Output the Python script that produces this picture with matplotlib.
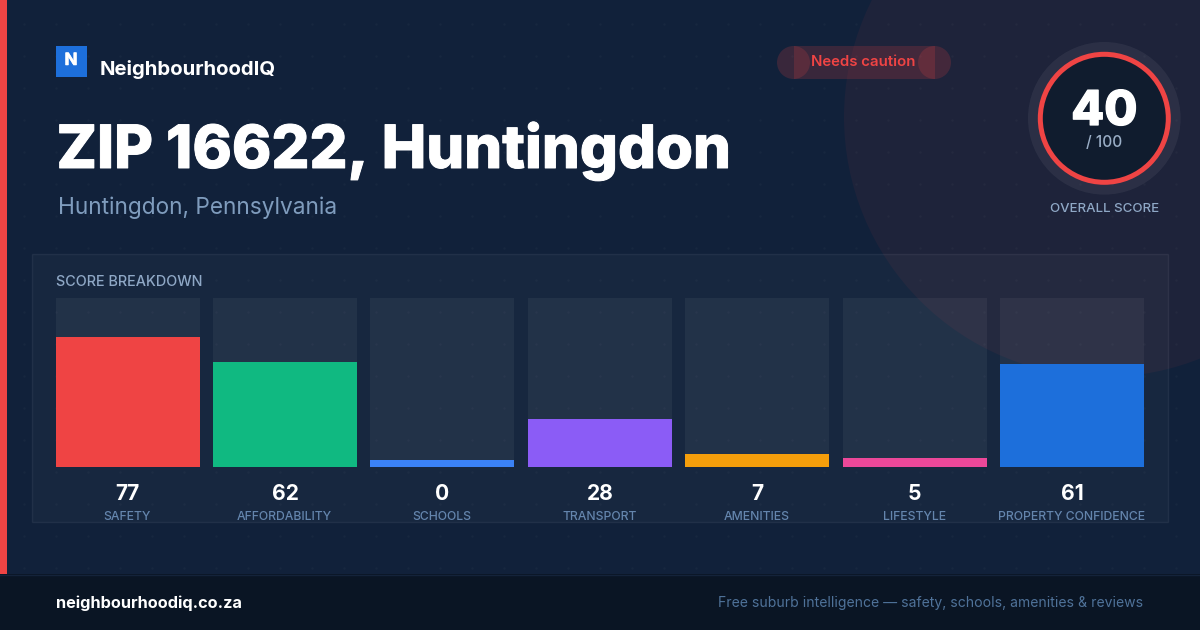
import numpy as np
import matplotlib
matplotlib.use("Agg")
import matplotlib.pyplot as plt
import matplotlib.patheffects as pe
from matplotlib.patches import Rectangle, Circle
from matplotlib.transforms import ScaledTranslation

categories = ["SAFETY", "AFFORDABILITY", "SCHOOLS", "TRANSPORT", "AMENITIES", "LIFESTYLE", "PROPERTY CONFIDENCE"]
scores = [77, 62, 0, 28.4, 7.45, 5.3, 61]
bar_colors = ["#ef4444", "#10b981", "#3b82f6", "#8b5cf6", "#f59e0b", "#ec4899", "#1d6fdb"]
overall_score = 40
MIN_VISIBLE = 4.1

plt.rcParams["font.family"] = ["Inter", "DejaVu Sans"]
BG = "#11213a"
px = 0.72


def heavy(width):
    return [pe.withStroke(linewidth=width, foreground="white")]


fig = plt.figure(figsize=(12, 6.3), dpi=100, facecolor=BG)
ax = fig.add_axes([0, 0, 1, 1])
ax.set_xlim(0, 1200)
ax.set_ylim(630, 0)
ax.axis("off")

ax.add_patch(Circle((1104, 117), 260, fc="#ef4444", alpha=0.06, lw=0, zorder=1))
ax.add_patch(Rectangle((32, 254), 1136, 268, fc=(1, 1, 1, 0.028), ec=(1, 1, 1, 0.06), lw=1, zorder=2))
ax.add_patch(Rectangle((0, 0), 7, 574, fc="#ef4444", lw=0, zorder=3))
ax.add_patch(Rectangle((0, 574), 1200, 56, fc="#0a1524", ec="none", zorder=8))
ax.plot([0, 1200], [574.5, 574.5], color="#14233a", lw=1, zorder=9)

gx, gy = np.meshgrid(np.arange(24, 1200, 32), np.arange(24, 574, 32))
ax.scatter(gx.ravel(), gy.ravel(), s=3, color="white", alpha=0.028, lw=0, zorder=4)

# logo and titles
ax.add_patch(Rectangle((56, 46), 31, 31, fc="#1d6fdb", lw=0, zorder=5))
ax.text(71, 60.5, "N", color="white", fontsize=17*px, fontweight="bold", ha="center", va="center", zorder=6,
        path_effects=heavy(0.4))
ax.text(100, 75, "NeighbourhoodIQ", color="white", fontsize=20.3*px, fontweight="bold", va="baseline", zorder=6)
ax.text(56.5, 168, "ZIP 16622, Huntingdon", color="white", fontsize=59.7*px, fontweight=800, va="baseline", zorder=6,
        path_effects=heavy(0.7))
ax.text(58, 214, "Huntingdon, Pennsylvania", color="#7f9cbd", fontsize=22.65*px, va="baseline", zorder=6)

# status pill
pill = dict(fc="#ef4444", alpha=0.18, lw=0, zorder=5)
ax.add_patch(Rectangle((793.5, 46), 141, 33, **pill))
ax.add_patch(Circle((793.5, 62.5), 16.5, **pill))
ax.add_patch(Circle((934.5, 62.5), 16.5, **pill))
ax.text(863.5, 62, "Needs caution", color="#ef4444", fontsize=15*px, fontweight=600, ha="center", va="center", zorder=6)

# gauge
cx, cy = 1104.3, 118.3
ax.add_patch(Circle((cx, cy), 76.3, fc=(1, 1, 1, 0.06), lw=0, zorder=5))
ax.add_patch(Circle((cx, cy), 64, fc="#101c2e", ec="#ef4444", lw=5*px, zorder=6))
ax.text(cx, 125, str(overall_score), color="white", fontsize=48*px, fontweight=800, ha="center", va="baseline", zorder=7,
        path_effects=heavy(0.9))
ax.text(cx, 142.5, "/ 100", color="#9aaec6", fontsize=15.5*px, fontweight=500, ha="center", va="center", zorder=7)
ax.text(cx, 209.5, "OVERALL SCORE", color="#8fa8c6", fontsize=13.3*px, fontweight=500, ha="center", va="center", zorder=7)

ax.text(56, 281.5, "SCORE BREAKDOWN", color="#8fa8c6", fontsize=14.4*px, fontweight=500, va="center", zorder=7)

# footer
ax.text(56, 603, "neighbourhoodiq.co.za", color="white", fontsize=16.3*px, fontweight="bold", va="center", zorder=10)
ax.text(1143, 602.5, "Free suburb intelligence \u2014 safety, schools, amenities & reviews", color="#4f7299",
        fontsize=14*px, ha="right", va="center", zorder=10)

# bars
left_px, pitch, bar_px = 55.6, 157.44, 144
bx = fig.add_axes([left_px/1200, (630-467)/630, (6*pitch + bar_px)/1200, 169/630], facecolor="none", zorder=5)
w = bar_px / pitch
x = np.arange(len(categories))
bx.set_xlim(-w/2, len(categories) - 1 + w/2)
bx.set_ylim(0, 100)
bx.bar(x, [100]*len(x), width=w, color=(1, 1, 1, 0.05), lw=0, zorder=1)
bx.bar(x, [max(s, MIN_VISIBLE) for s in scores], width=w, color=bar_colors, lw=0, zorder=2)
for s in bx.spines.values():
    s.set_visible(False)
bx.set_yticks([])
bx.set_xticks(x, categories, color="#6485ad", fontsize=12.2*px, fontweight=500)
bx.tick_params(axis="x", length=0, pad=44*px)
shift = ScaledTranslation(-0.5/100, 0, fig.dpi_scale_trans)
for lab in bx.get_xticklabels():
    lab.set_transform(lab.get_transform() + shift)
for xi, s in zip(x, scores):
    bx.annotate(f"{round(s)}", (xi, 0), xytext=(0, -27), textcoords="offset pixels", color="white",
                fontsize=21*px, fontweight="bold", ha="center", va="center", annotation_clip=False)

fig.savefig("out.png", dpi=100, facecolor=BG)
